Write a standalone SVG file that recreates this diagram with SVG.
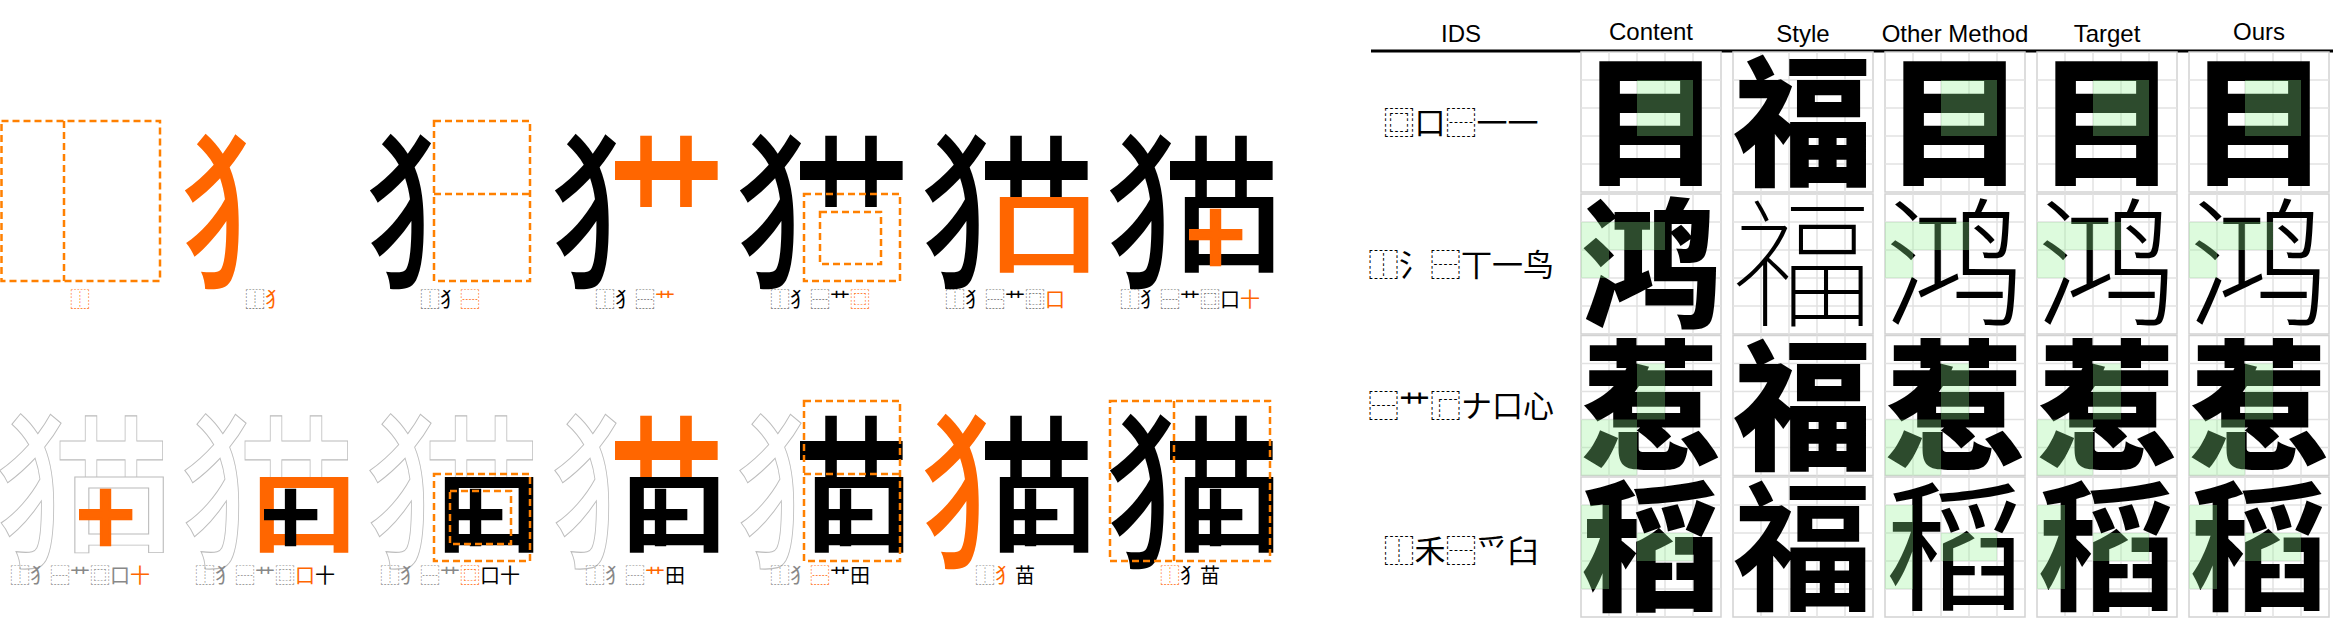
<svg xmlns="http://www.w3.org/2000/svg" width="2336" height="620" viewBox="0 0 2336 620">
<style>
.c{font-family:"Noto Sans CJK SC","Noto Sans CJK JP",sans-serif;font-size:100px;font-weight:700;vector-effect:non-scaling-stroke}
.lb{font-family:"Noto Sans CJK SC","Noto Sans CJK JP",sans-serif;font-size:20px;text-anchor:middle;fill:#000}
.i{fill:#666}
.gy{fill:#888}
.o{fill:#ff6600}
.go{fill:#ff6600;stroke:#ff6600;stroke-width:0}
.gk{fill:#000;stroke:#000;stroke-width:0}
.ol{fill:#fff;stroke:#bdbdbd;stroke-width:1}
.d{fill:none;stroke:#ff8000;stroke-width:2.5;stroke-dasharray:7 4}
.hd{font-family:"Liberation Sans",Arial,sans-serif;font-size:24px;text-anchor:middle;fill:#000}
.cb{fill:#fff;stroke:#d2d2d2;stroke-width:1.5}
.gl{stroke:#e2e2e2;stroke-width:1.5}
.tg{font-family:"Noto Sans CJK SC","Noto Sans CJK JP",sans-serif;font-size:140px;text-anchor:middle;fill:#000}
.hl{fill:#91f291;fill-opacity:0.31}
.tids{font-family:"Noto Sans CJK SC","Noto Sans CJK JP",sans-serif;font-size:31px;text-anchor:middle;fill:#000}
</style>
<defs>
  <text id="gQ" class="c" style="font-weight:500" transform="matrix(1.208 0 0 1.688 -4.4 153.8)">犭</text>
  <text id="gC" class="c" style="font-weight:500" transform="matrix(1.169 0 0 1.91 53 167.3)">艹</text>
  <text id="gK" class="c" transform="matrix(1.12 0 0 0.907 63 145.1)">口</text>
  <text id="gS" class="c" style="font-weight:900;stroke-width:2.5" transform="matrix(0.554 0 0 0.57 77.8 138)">十</text>
  <g id="cell">
    <rect class="cb" x="0" y="0" width="140" height="140"/>
    <path class="gl" d="M28 0V140M56 0V140M84 0V140M112 0V140M0 28H140M0 56H140M0 84H140M0 112H140"/>
  </g>
</defs>

<!-- top row -->
<g id="t1" transform="translate(0,121)">
  <rect class="d" x="1.5" y="0" width="158.5" height="160"/>
  <line class="d" x1="64" y1="0" x2="64" y2="160"/>
  <text class="lb" x="80" y="186"><tspan class="o">⿰</tspan></text>
</g>
<g id="t2" transform="translate(185,121)">
  <use href="#gQ" class="go"/>
  <text class="lb" x="80" y="186"><tspan class="i">⿰</tspan><tspan class="o">犭</tspan></text>
</g>
<g id="t3" transform="translate(370,121)">
  <use href="#gQ" class="gk"/>
  <rect class="d" x="64" y="0" width="96" height="160"/>
  <line class="d" x1="64" y1="73" x2="160" y2="73"/>
  <text class="lb" x="80" y="186"><tspan class="i">⿰</tspan>犭<tspan class="o">⿱</tspan></text>
</g>
<g id="t4" transform="translate(555,121)">
  <use href="#gQ" class="gk"/>
  <use href="#gC" class="go"/>
  <text class="lb" x="80" y="186"><tspan class="i">⿰</tspan>犭<tspan class="i">⿱</tspan><tspan class="o">艹</tspan></text>
</g>
<g id="t5" transform="translate(740,121)">
  <use href="#gQ" class="gk"/>
  <use href="#gC" class="gk"/>
  <rect class="d" x="64" y="73" width="96" height="87"/>
  <rect class="d" x="80" y="91" width="61" height="52"/>
  <text class="lb" x="80" y="186"><tspan class="i">⿰</tspan>犭<tspan class="i">⿱</tspan>艹<tspan class="o">⿴</tspan></text>
</g>
<g id="t6" transform="translate(925,121)">
  <use href="#gQ" class="gk"/>
  <use href="#gC" class="gk"/>
  <use href="#gK" class="go"/>
  <text class="lb" x="80" y="186"><tspan class="i">⿰</tspan>犭<tspan class="i">⿱</tspan>艹<tspan class="i">⿴</tspan><tspan class="o">口</tspan></text>
</g>
<g id="t7" transform="translate(1110,121)">
  <use href="#gQ" class="gk"/>
  <use href="#gC" class="gk"/>
  <use href="#gK" class="gk"/>
  <use href="#gS" class="go"/>
  <text class="lb" x="80" y="186"><tspan class="i">⿰</tspan>犭<tspan class="i">⿱</tspan>艹<tspan class="i">⿴</tspan>口<tspan class="o">十</tspan></text>
</g>

<!-- bottom row -->
<g id="b1" transform="translate(0,401)">
  <use href="#gQ" class="ol"/>
  <use href="#gC" class="ol"/>
  <use href="#gK" class="ol"/>
  <use href="#gS" class="go"/>
  <text class="lb" x="80" y="182"><tspan class="gy">⿰犭⿱艹⿴口</tspan><tspan class="o">十</tspan></text>
</g>
<g id="b2" transform="translate(185,401)">
  <use href="#gQ" class="ol"/>
  <use href="#gC" class="ol"/>
  <use href="#gK" class="go"/>
  <use href="#gS" class="gk"/>
  <text class="lb" x="80" y="182"><tspan class="gy">⿰犭⿱艹⿴</tspan><tspan class="o">口</tspan>十</text>
</g>
<g id="b3" transform="translate(370,401)">
  <use href="#gQ" class="ol"/>
  <use href="#gC" class="ol"/>
  <use href="#gK" class="gk"/>
  <use href="#gS" class="gk"/>
  <rect class="d" x="64" y="73" width="96" height="87"/>
  <rect class="d" x="80" y="90" width="61" height="53"/>
  <text class="lb" x="80" y="182"><tspan class="gy">⿰犭⿱艹</tspan><tspan class="o">⿴</tspan>口十</text>
</g>
<g id="b4" transform="translate(555,401)">
  <use href="#gQ" class="ol"/>
  <use href="#gC" class="go"/>
  <use href="#gK" class="gk"/>
  <use href="#gS" class="gk"/>
  <text class="lb" x="80" y="182"><tspan class="gy">⿰犭⿱</tspan><tspan class="o">艹</tspan>田</text>
</g>
<g id="b5" transform="translate(740,401)">
  <use href="#gQ" class="ol"/>
  <use href="#gC" class="gk"/>
  <use href="#gK" class="gk"/>
  <use href="#gS" class="gk"/>
  <rect class="d" x="64" y="0" width="96" height="160"/>
  <line class="d" x1="64" y1="73" x2="160" y2="73"/>
  <text class="lb" x="80" y="182"><tspan class="gy">⿰犭</tspan><tspan class="o">⿱</tspan>艹田</text>
</g>
<g id="b6" transform="translate(925,401)">
  <use href="#gQ" class="go"/>
  <use href="#gC" class="gk"/>
  <use href="#gK" class="gk"/>
  <use href="#gS" class="gk"/>
  <text class="lb" x="80" y="182"><tspan class="gy">⿰</tspan><tspan class="o">犭</tspan>苗</text>
</g>
<g id="b7" transform="translate(1110,401)">
  <use href="#gQ" class="gk"/>
  <use href="#gC" class="gk"/>
  <use href="#gK" class="gk"/>
  <use href="#gS" class="gk"/>
  <rect class="d" x="0" y="0" width="160" height="160"/>
  <line class="d" x1="64" y1="0" x2="64" y2="160"/>
  <text class="lb" x="80" y="182"><tspan class="o">⿰</tspan>犭苗</text>
</g>

<!-- table header -->
<g id="header">
  <text class="hd" x="1461" y="42">IDS</text>
  <text class="hd" x="1651" y="40">Content</text>
  <text class="hd" x="1803" y="42">Style</text>
  <text class="hd" x="1955" y="42">Other Method</text>
  <text class="hd" x="2107" y="42">Target</text>
  <text class="hd" x="2259" y="40">Ours</text>
  <line x1="1371" y1="51" x2="2333" y2="51" stroke="#000" stroke-width="3"/>
</g>

<!-- IDS column -->
<g id="ids">
  <text class="tids" x="1461" y="134">⿴口⿱一一</text>
  <text class="tids" x="1461" y="276">⿰氵⿱丅一鸟</text>
  <text class="tids" x="1461" y="417">⿱艹⿸ナ口心</text>
  <text class="tids" x="1461" y="562">⿰禾⿱爫臼</text>
</g>

<!-- row 1 -->
<g id="r1c1" transform="translate(1581,52)"><use href="#cell"/><text class="tg" x="70" y="122" font-weight="900">目</text><rect class="hl" x="56" y="28" width="56" height="56"/></g>
<g id="r1c2" transform="translate(1733,52)"><use href="#cell"/><text class="tg" x="70" y="122" font-weight="900">福</text></g>
<g id="r1c3" transform="translate(1885,52)"><use href="#cell"/><text class="tg" x="70" y="122" font-weight="900">目</text><rect class="hl" x="56" y="28" width="56" height="56"/></g>
<g id="r1c4" transform="translate(2037,52)"><use href="#cell"/><text class="tg" x="70" y="122" font-weight="900">目</text><rect class="hl" x="56" y="28" width="56" height="56"/></g>
<g id="r1c5" transform="translate(2189,52)"><use href="#cell"/><text class="tg" x="70" y="122" font-weight="900">目</text><rect class="hl" x="56" y="28" width="56" height="56"/></g>

<!-- row 2 -->
<g id="r2c1" transform="translate(1581,194)"><use href="#cell"/><text class="tg" x="70" y="122" font-weight="900">鸿</text><path class="hl" d="M0 28H84V56H28V84H0Z"/></g>
<g id="r2c2" transform="translate(1733,194)"><use href="#cell"/><text class="tg" x="70" y="122" font-weight="100">福</text></g>
<g id="r2c3" transform="translate(1885,194)"><use href="#cell"/><text class="tg" x="70" y="122" font-weight="300">鸿</text><path class="hl" d="M0 28H84V56H28V84H0Z"/></g>
<g id="r2c4" transform="translate(2037,194)"><use href="#cell"/><text class="tg" x="70" y="122" font-weight="300">鸿</text><path class="hl" d="M0 28H84V56H28V84H0Z"/></g>
<g id="r2c5" transform="translate(2189,194)"><use href="#cell"/><text class="tg" x="70" y="122" font-weight="300">鸿</text><path class="hl" d="M0 28H84V56H28V84H0Z"/></g>

<!-- row 3 -->
<g id="r3c1" transform="translate(1581,335.5)"><use href="#cell"/><text class="tg" x="70" y="122" font-weight="900">惹</text><path class="hl" d="M56 28H84V84H56Z M0 84H56V140H0Z"/></g>
<g id="r3c2" transform="translate(1733,335.5)"><use href="#cell"/><text class="tg" x="70" y="122" font-weight="900">福</text></g>
<g id="r3c3" transform="translate(1885,335.5)"><use href="#cell"/><text class="tg" x="70" y="122" font-weight="900">惹</text><path class="hl" d="M56 28H84V84H56Z M0 84H56V140H0Z"/></g>
<g id="r3c4" transform="translate(2037,335.5)"><use href="#cell"/><text class="tg" x="70" y="122" font-weight="900">惹</text><path class="hl" d="M56 28H84V84H56Z M0 84H56V140H0Z"/></g>
<g id="r3c5" transform="translate(2189,335.5)"><use href="#cell"/><text class="tg" x="70" y="122" font-weight="900">惹</text><path class="hl" d="M56 28H84V84H56Z M0 84H56V140H0Z"/></g>

<!-- row 4 -->
<g id="r4c1" transform="translate(1581,477)"><use href="#cell"/><text class="tg" x="70" y="122" font-weight="900">稻</text><path class="hl" d="M0 28H28V112H0Z M56 56H112V84H56Z"/></g>
<g id="r4c2" transform="translate(1733,477)"><use href="#cell"/><text class="tg" x="70" y="122" font-weight="700">福</text></g>
<g id="r4c3" transform="translate(1885,477)"><use href="#cell"/><text class="tg" x="70" y="122" font-weight="400">稻</text><path class="hl" d="M0 28H28V112H0Z M56 56H112V84H56Z"/></g>
<g id="r4c4" transform="translate(2037,477)"><use href="#cell"/><text class="tg" x="70" y="122" font-weight="700">稻</text><path class="hl" d="M0 28H28V112H0Z M56 56H112V84H56Z"/></g>
<g id="r4c5" transform="translate(2189,477)"><use href="#cell"/><text class="tg" x="70" y="122" font-weight="700">稻</text><path class="hl" d="M0 28H28V112H0Z M56 56H112V84H56Z"/></g>
</svg>
